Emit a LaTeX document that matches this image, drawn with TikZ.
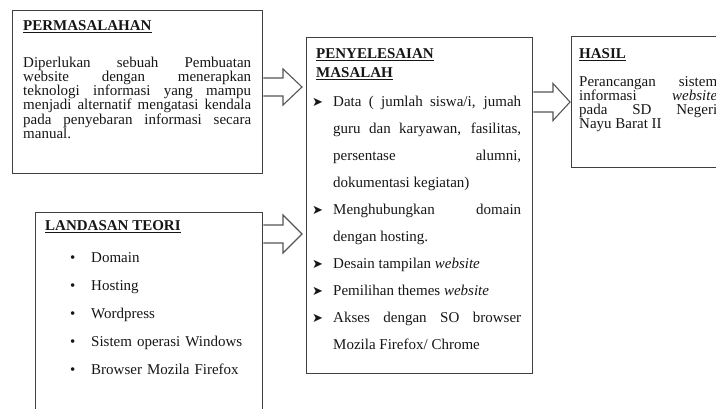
\documentclass[tikz,border=0pt]{standalone}
\usepackage{fontspec}
\setmainfont{Liberation Serif}
\newfontfamily\symfont{DejaVu Sans}
\usetikzlibrary{calc}
\definecolor{ink}{HTML}{161616}
\definecolor{boxline}{HTML}{404040}
\definecolor{arrline}{HTML}{555555}
\newcommand\ttl[1]{\leavevmode\setbox0\hbox{#1}\rlap{\color{ink}\rule[-3.2pt]{\wd0}{1.5pt}}\box0}
\newcommand\arw{\leavevmode\llap{\makebox[21pt][l]{\raisebox{0pt}{\symfont\fontsize{13}{13}\selectfont ➤}}}}
\newcommand\bul{\leavevmode\llap{\makebox[21pt][l]{•}}}
% #1 from, #2 to, #3 centre y, #4 shaft half, #5 head half, #6 head length, #7 gap
\newcommand\blockarrow[7]{%
  \draw[blockarr] let \p1=(#1.east), \p2=(#2.west), \p3=(0,#3) in
    (\x1,\y3+#4pt) -- (\x2-#6pt-#7pt,\y3+#4pt) -- (\x2-#6pt-#7pt,\y3+#5pt)
    -- (\x2-#7pt,\y3) -- (\x2-#6pt-#7pt,\y3-#5pt) -- (\x2-#6pt-#7pt,\y3-#4pt)
    -- (\x1,\y3-#4pt);}
\tikzset{
  panel/.style={draw=boxline, line width=1.4pt, inner sep=0pt, anchor=north west},
  txt/.style={inner sep=0pt, anchor=base west, text=ink, font=\fontsize{15}{14.3}\selectfont},
  blockarr/.style={draw=arrline, line width=1.1pt, line join=miter},
}
\begin{document}
\begin{tikzpicture}[x=1pt,y=-1pt]
\useasboundingbox (0,0) rectangle (716,408);
\clip (0,0) rectangle (716,408);
% panels
\node[panel, minimum width=250pt, minimum height=163pt] (perm) at (12,10) {};
\node[panel, minimum width=226pt, minimum height=336pt] (pen) at (306,37) {};
\node[panel, minimum width=170pt, minimum height=131pt] (hasil) at (571,36) {};
\node[panel, minimum width=227pt, minimum height=215pt] (land) at (35,212) {};
% arrows
\blockarrow{perm}{pen}{87}{9}{18}{19}{4}
\blockarrow{pen}{hasil}{102}{10}{18.5}{17}{1}
\blockarrow{land}{pen}{234}{9}{19}{19}{4}
% PERMASALAHAN
\node[txt] (permT) at (23,30) {\ttl{\textbf{PERMASALAHAN}}};
\node[txt, text width=228pt, align=justify] (permB) at (23,67)
  {Diperlukan sebuah Pembuatan\linebreak website dengan menerapkan\linebreak teknologi informasi yang mampu\linebreak menjadi alternatif mengatasi kendala\linebreak pada penyebaran informasi secara\linebreak manual.};
% PENYELESAIAN
\node[txt, text width=180pt, align=left, font=\fontsize{15}{19}\selectfont] (penT) at (316,58)
  {\ttl{\textbf{PENYELESAIAN}}\\\ttl{\textbf{MASALAH}}};
\node[txt, text width=188pt, align=justify, font=\fontsize{15}{27.1}\selectfont] (penL) at (333,106)
  {\arw Data ( jumlah siswa/i, jumah\linebreak guru dan karyawan, fasilitas,\linebreak persentase alumni,\linebreak dokumentasi kegiatan)\par
   \arw Menghubungkan domain\linebreak dengan hosting.\par
   \arw Desain tampilan \textit{website}\par
   \arw Pemilihan themes \textit{website}\par
   \arw Akses dengan SO browser\linebreak Mozila Firefox/ Chrome};
% HASIL
\node[txt] (hasilT) at (579,58) {\ttl{\textbf{HASIL}}};
\node[txt, text width=138pt, align=justify, font=\fontsize{15}{14.3}\selectfont] (hasilB) at (579,86)
  {Perancangan sistem\linebreak informasi \textit{website}\linebreak pada SD Negeri\linebreak Nayu Barat II};
% LANDASAN TEORI
\node[txt] (landT) at (45,230) {\ttl{\textbf{LANDASAN TEORI}}};
\node[txt, text width=180pt, align=left, font=\fontsize{15}{28.2}\selectfont] (landL) at (91,262)
  {\bul Domain\\\bul Hosting\\\bul Wordpress\\\bul Sistem operasi Windows\\\bul Browser Mozila Firefox};
\end{tikzpicture}
\end{document}
